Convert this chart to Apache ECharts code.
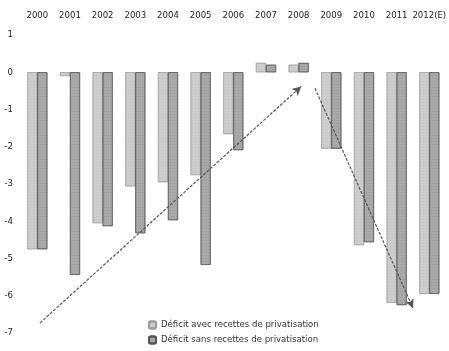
<!DOCTYPE html>
<html><head><meta charset="utf-8">
<script src="https://cdn.jsdelivr.net/npm/echarts@6/dist/echarts.min.js"></script>
<style>html,body{margin:0;padding:0;background:#fff}#c{width:449px;height:351px}</style>
</head><body><div id="c"></div>
<script>
var categories = ['2000','2001','2002','2003','2004','2005','2006','2007','2008','2009','2010','2011','2012(E)'];
var avecRecettes = [-4.75,-0.1,-4.05,-3.06,-2.95,-2.76,-1.66,0.25,0.2,-2.05,-4.64,-6.19,-5.95];
var sansRecettes = [-4.75,-5.44,-4.13,-4.32,-3.97,-5.17,-2.09,0.2,0.25,-2.05,-4.56,-6.25,-5.95];
var yTicks = [1,0,-1,-2,-3,-4,-5,-6,-7];
// trend arrows: [categoryPosition, value]
var arrowUp = [[0.08,-6.73],[8.08,-0.38]];
var arrowDown = [[8.5,-0.43],[11.5,-6.33]];

var font = "'Liberation Sans Narrow','DejaVu Sans Condensed','Liberation Sans',sans-serif";
var chart = echarts.init(document.getElementById('c'));
chart.setOption({
  animation:false,
  backgroundColor:'#fff',
  textStyle:{fontFamily:font},
  grid:{left:21,width:430,top:35,bottom:18},
  legend:{
    orient:'vertical',left:143,top:315,itemWidth:7,itemHeight:7,itemGap:5,
    textStyle:{fontSize:9.5,color:'#333',fontFamily:font},
    data:['Déficit avec recettes de privatisation','Déficit sans recettes de privatisation']
  },
  xAxis:[{
    type:'category',position:'top',data:categories,
    axisLine:{show:false},axisTick:{show:false},
    axisLabel:{margin:14,fontSize:9.5,color:'#222',fontFamily:font,interval:0}
  },{
    type:'value',min:-0.5,max:12.5,show:false
  }],
  yAxis:{
    type:'value',min:-7,max:1,interval:1,
    axisLine:{show:false},axisTick:{show:false},splitLine:{show:false},
    axisLabel:{margin:8,fontSize:9.5,color:'#222',fontFamily:font,
      formatter:function(v){return yTicks.indexOf(v)>=0?String(v):'';}}
  },
  series:[{
    name:'Déficit avec recettes de privatisation',type:'bar',data:avecRecettes,
    barWidth:10,barGap:'0%',
    itemStyle:{color:'#cdcdcd',borderColor:'#9a9a9a',borderWidth:0.5,
      decal:{symbol:'rect',symbolSize:0.5,dashArrayX:[1,2],dashArrayY:[1,2],color:'rgba(90,90,90,0.35)',rotation:0}}
  },{
    name:'Déficit sans recettes de privatisation',type:'bar',data:sansRecettes,
    barWidth:10,barGap:'0%',
    itemStyle:{color:'#a9a9a9',borderColor:'#555',borderWidth:0.6,
      decal:{symbol:'rect',symbolSize:0.6,dashArrayX:[1,1],dashArrayY:[1,2],color:'rgba(60,60,60,0.4)',rotation:0}}
  },{
    type:'line',xAxisIndex:1,data:[],silent:true,
    markLine:{
      silent:true,symbol:['none','arrow'],symbolSize:[7,9],label:{show:false},
      lineStyle:{color:'#555',width:1.2,type:[3,1.5]},
      data:[
        [{coord:arrowUp[0]},{coord:arrowUp[1]}],
        [{coord:arrowDown[0]},{coord:arrowDown[1]}]
      ]
    }
  }]
});
</script></body></html>
